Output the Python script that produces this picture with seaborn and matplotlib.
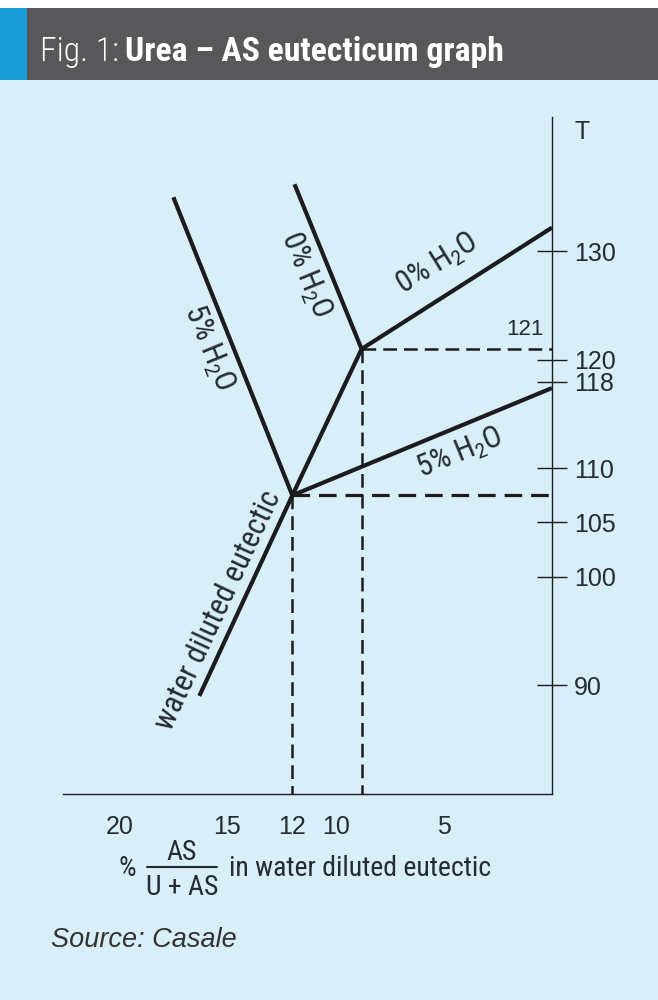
import matplotlib
matplotlib.use("Agg")
import matplotlib.pyplot as plt
import seaborn as sns
import pandas as pd
from matplotlib import font_manager
from matplotlib.patches import Rectangle
from matplotlib.lines import Line2D

# values: x = % AS/(U+AS), T = temperature
eutectic_x = [16.3, 12.0, 8.8]
eutectic_T = [89.0, 107.5, 121.0]
h2o0_left_x = [11.9, 8.8]
h2o0_left_T = [136.2, 121.0]
h2o0_right_x = [8.8, 0.0]
h2o0_right_T = [121.0, 132.2]
h2o5_left_x = [17.5, 12.0]
h2o5_left_T = [135.0, 107.5]
h2o5_right_x = [12.0, 0.0]
h2o5_right_T = [107.5, 117.4]

# corners where the dashed guide lines start
guide_x = [8.8, 12.0]
guide_T = [121.0, 107.5]

x_ticks = [20, 15, 12, 10, 5]
T_ticks = [130, 120, 118, 110, 105, 100, 90]

BG = "#d8eef9"
INK = "#1c1c1e"
TXT = "#232b33"

sns.set_theme(style="white")
names = {f.name for f in font_manager.fontManager.ttflist}
narrow = "Liberation Sans"
for cand in ["Roboto Condensed", "Liberation Sans Narrow", "Open Sans Condensed", "Roboto"]:
    if cand in names:
        narrow = cand
        break
plt.rcParams["font.family"] = ["Liberation Sans", "DejaVu Sans"]
plt.rcParams["mathtext.default"] = "regular"
cond = [narrow, "DejaVu Sans"]

fig = plt.figure(figsize=(6.58, 10), dpi=100, facecolor=BG)
renderer = fig.canvas.get_renderer()

# title bar
fig.add_artist(Rectangle((0, 0.92), 27 / 658, 0.072, transform=fig.transFigure,
                         facecolor="#1b9bd7", edgecolor="none"))
fig.add_artist(Rectangle((27 / 658, 0.92), 1, 0.072, transform=fig.transFigure,
                         facecolor="#58585a", edgecolor="none"))
fig.add_artist(Rectangle((0, 0.992), 1, 0.008, transform=fig.transFigure,
                         facecolor="white", edgecolor="none"))

# fit the bold part of the title to roughly its width in the reference
t_bold = fig.text(124 / 658, 1 - 61 / 1000, "Urea \u2013 AS eutecticum graph", color="white",
                  fontsize=20, fontweight="bold", family=cond, va="baseline", ha="left")
w = t_bold.get_window_extent(renderer).width
tsize = min(28, 20 * 378 / w)
t_bold.set_fontsize(tsize)
t_reg = fig.text(40 / 658, 1 - 61 / 1000, "Fig. 1:", color="white", fontsize=tsize,
                 fontweight="light", family=cond, va="baseline", ha="left")
x_end = t_reg.get_window_extent(renderer).x1
t_bold.set_x((x_end + 6) / 658)

ax = fig.add_axes([63 / 658, 1 - 793.5 / 1000, (552 - 63) / 658, (793.5 - 117) / 1000])
ax.patch.set_alpha(0)

segments = [
    (eutectic_x, eutectic_T),
    (h2o0_left_x, h2o0_left_T),
    (h2o0_right_x, h2o0_right_T),
    (h2o5_left_x, h2o5_left_T),
    (h2o5_right_x, h2o5_right_T),
]
for xs, ts in segments:
    df = pd.DataFrame({"x": xs, "T": ts})
    sns.lineplot(data=df, x="x", y="T", ax=ax, sort=False, estimator=None,
                 color=INK, linewidth=3, solid_capstyle="butt")

# dashed guides from the two corners to both axes
for gx, gt, lw in zip(guide_x, guide_T, [1.8, 2.3]):
    ax.plot([gx, 0], [gt, gt], color=INK, linewidth=lw, linestyle=(0, (5.5, 2.8)))
    ax.plot([gx, gx], [gt, 80], color=INK, linewidth=1.8, linestyle=(0, (5.5, 2.8)))

ax.set_xlim(22.6, 0)
ax.set_ylim(80, 142.4)
ax.set_xlabel("")
ax.set_ylabel("")
for s in ["top", "left"]:
    ax.spines[s].set_visible(False)
for s in ["bottom", "right"]:
    ax.spines[s].set_color(INK)
    ax.spines[s].set_linewidth(1.0)

ax.set_xticks(x_ticks)
ax.set_xticklabels([str(v) for v in x_ticks])
ax.set_yticks(T_ticks)
ax.set_yticklabels([str(v) for v in T_ticks])
ax.yaxis.tick_right()
ax.tick_params(axis="x", direction="inout", length=18.7, width=1, pad=6,
               labelsize=18, colors=INK, labelcolor=TXT)
ax.tick_params(axis="y", direction="inout", length=21, width=1, pad=5.4,
               labelsize=18, colors=INK, labelcolor=TXT)

# labels along the lines
lab = dict(color=TXT, fontsize=22, family=cond, ha="center", va="center",
           rotation_mode="anchor")
ax.text(5.31, 128.8, "0% H$_2$O", rotation=31.8, **lab)
ax.text(4.25, 111.4, "5% H$_2$O", rotation=22.3, **lab)
ax.text(11.41, 127.8, "0% H$_2$O", rotation=-67.7, **lab)
ax.text(15.9, 121.1, "5% H$_2$O", rotation=-67.8, **lab)
ax.text(15.43, 96.9, "water diluted eutectic", rotation=65, **lab)
ax.text(1.25, 122.8, "121", color=TXT, fontsize=16, ha="center", va="center")
ax.text(-1.39, 141.0, "T", color=TXT, fontsize=18, ha="center", va="center", clip_on=False)

# x-axis caption with the AS/(U+AS) fraction
cap = dict(color=TXT, fontsize=20, family=cond, va="baseline")
fig.text(127 / 658, 1 - 876 / 1000, "%", ha="center", **cap)
fig.text(182 / 658, 1 - 860 / 1000, "AS", ha="center", **cap)
fig.text(182 / 658, 1 - 895 / 1000, "U + AS", ha="center", **cap)
fig.add_artist(Line2D([147 / 658, 217 / 658], [1 - 867 / 1000, 1 - 867 / 1000],
                      transform=fig.transFigure, color=TXT, linewidth=1.5))
fig.text(229 / 658, 1 - 876 / 1000, "in water diluted eutectic", ha="left", **cap)

fig.text(51 / 658, 1 - 940 / 1000, "Source: Casale", color="#333333", fontsize=19.5,
         style="italic", ha="left", va="center")

fig.savefig("out.png", dpi=100, facecolor=BG)
